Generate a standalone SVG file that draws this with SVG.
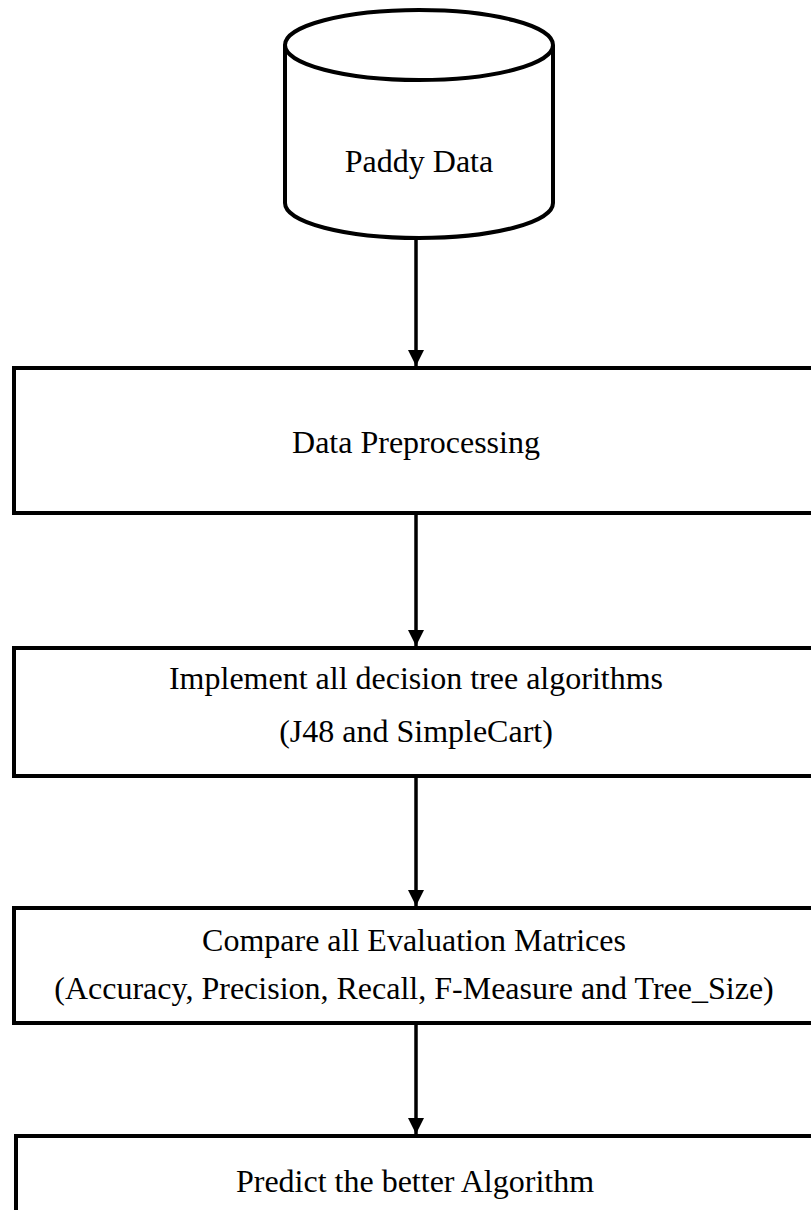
<svg xmlns="http://www.w3.org/2000/svg" width="811" height="1210" viewBox="0 0 811 1210">
  <defs>
    <style>
      .shape { fill: #ffffff; stroke: #000000; stroke-width: 4; }
      .label { font-family: "Liberation Serif", "Times New Roman", serif; font-size: 32px; fill: #000000; text-anchor: middle; }
      .link { stroke: #000000; stroke-width: 3.5; fill: none; }
    </style>
    <marker id="arrowhead" markerUnits="userSpaceOnUse" markerWidth="17" markerHeight="16" refX="16" refY="8" orient="auto">
      <path d="M0,0 L16,8 L0,16 Z" fill="#000000"/>
    </marker>
  </defs>

  <rect width="811" height="1210" fill="#ffffff"/>

  <!-- data source cylinder -->
  <g id="paddy-data">
    <path class="shape" d="M285,45 L285,203 A134,35 0 0 0 553,203 L553,45"/>
    <ellipse class="shape" cx="419" cy="45" rx="134" ry="35"/>
    <text class="label" x="419" y="172">Paddy Data</text>
  </g>

  <g id="preprocessing">
    <rect class="shape" x="14" y="368" width="820" height="145"/>
    <text class="label" x="416" y="453">Data Preprocessing</text>
  </g>

  <g id="implement">
    <rect class="shape" x="14" y="648" width="820" height="128"/>
    <text class="label" x="416" y="689">Implement all decision tree algorithms</text>
    <text class="label" x="416" y="742">(J48 and SimpleCart)</text>
  </g>

  <g id="compare">
    <rect class="shape" x="14" y="908" width="820" height="115"/>
    <text class="label" x="414" y="951">Compare all Evaluation Matrices</text>
    <text class="label" x="414" y="999">(Accuracy, Precision, Recall, F-Measure and Tree_Size)</text>
  </g>

  <g id="predict">
    <rect class="shape" x="16" y="1136" width="820" height="120"/>
    <text class="label" x="415" y="1192">Predict the better Algorithm</text>
  </g>

  <!-- connectors -->
  <g id="connectors">
    <line class="link" x1="416" y1="238" x2="416" y2="366" marker-end="url(#arrowhead)"/>
    <line class="link" x1="416" y1="515" x2="416" y2="646" marker-end="url(#arrowhead)"/>
    <line class="link" x1="416" y1="778" x2="416" y2="906" marker-end="url(#arrowhead)"/>
    <line class="link" x1="416" y1="1025" x2="416" y2="1134" marker-end="url(#arrowhead)"/>
  </g>
</svg>
